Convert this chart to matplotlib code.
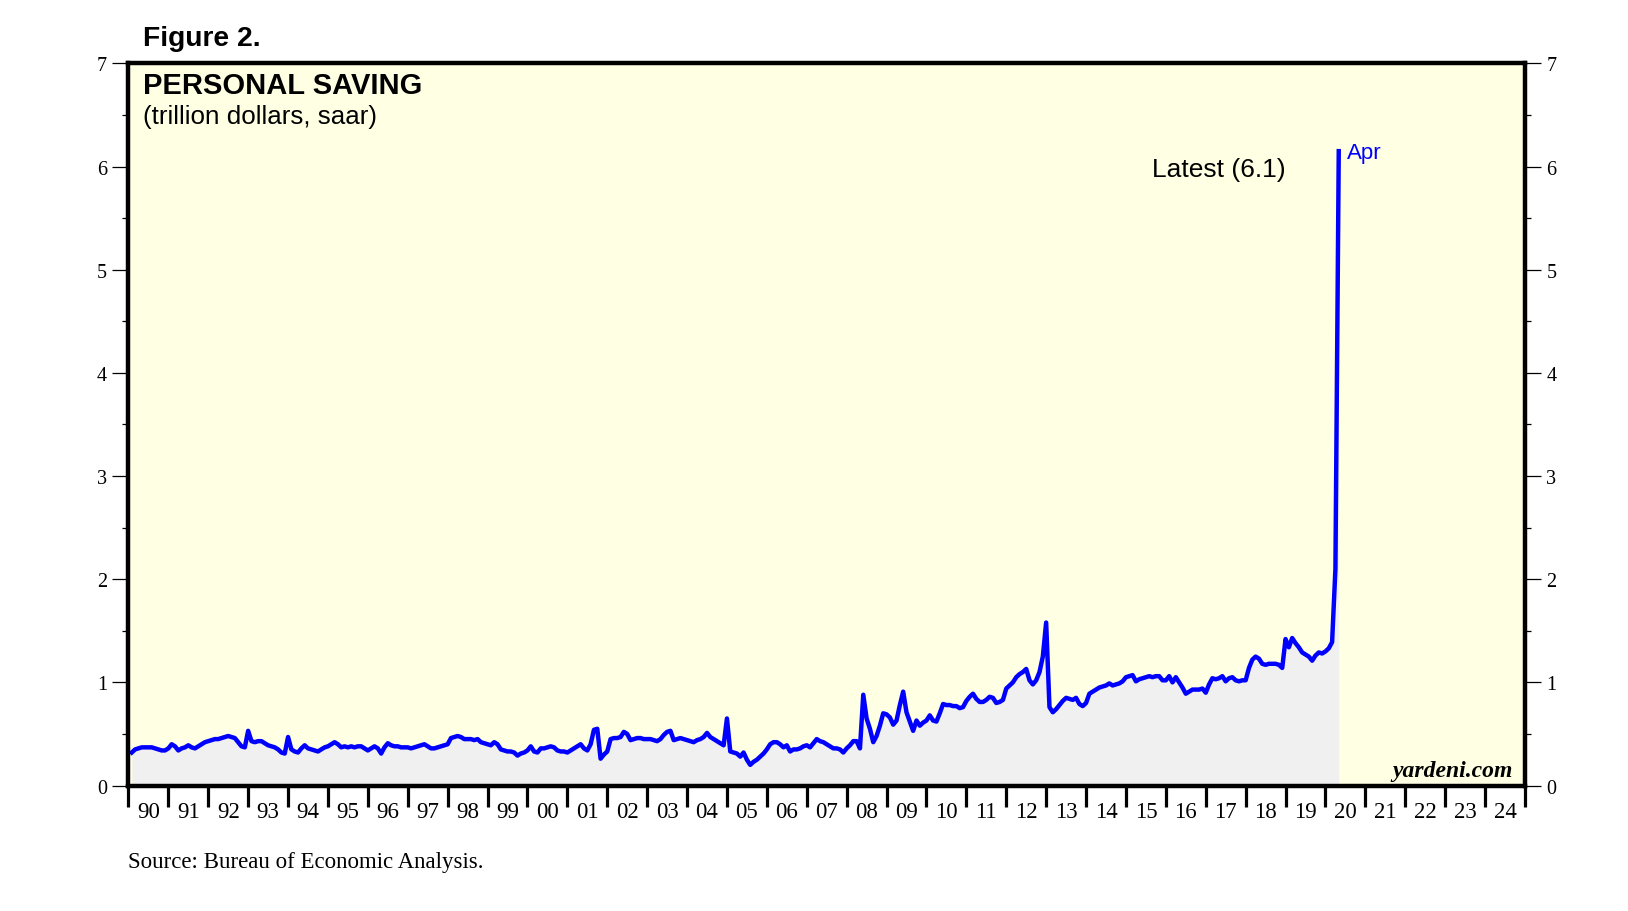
import numpy as np
import matplotlib
matplotlib.use('Agg')
import matplotlib.pyplot as plt
from matplotlib.ticker import FixedLocator, MultipleLocator, NullFormatter

# personal saving, trillion dollars, saar (monthly)
s1990 = [0.32, 0.35, 0.36, 0.37, 0.37, 0.37, 0.37, 0.36, 0.35, 0.34, 0.34, 0.36]
s1991 = [0.40, 0.38, 0.34, 0.36, 0.37, 0.39, 0.37, 0.36, 0.38, 0.40, 0.42, 0.43]
s1992 = [0.44, 0.45, 0.45, 0.46, 0.47, 0.48, 0.47, 0.46, 0.42, 0.38, 0.37, 0.53]
s1993 = [0.43, 0.42, 0.43, 0.43, 0.41, 0.39, 0.38, 0.37, 0.35, 0.32, 0.31, 0.47]
s1994 = [0.35, 0.33, 0.32, 0.36, 0.39, 0.36, 0.35, 0.34, 0.33, 0.35, 0.37, 0.38]
s1995 = [0.40, 0.42, 0.40, 0.37, 0.38, 0.37, 0.38, 0.37, 0.38, 0.38, 0.36, 0.34]
s1996 = [0.36, 0.38, 0.36, 0.31, 0.37, 0.41, 0.39, 0.38, 0.38, 0.37, 0.37, 0.37]
s1997 = [0.36, 0.37, 0.38, 0.39, 0.40, 0.38, 0.36, 0.36, 0.37, 0.38, 0.39, 0.40]
s1998 = [0.46, 0.47, 0.48, 0.47, 0.45, 0.45, 0.45, 0.44, 0.45, 0.42, 0.41, 0.40]
s1999 = [0.39, 0.42, 0.40, 0.35, 0.34, 0.33, 0.33, 0.32, 0.29, 0.31, 0.32, 0.34]
s2000 = [0.38, 0.33, 0.32, 0.36, 0.36, 0.37, 0.38, 0.37, 0.34, 0.33, 0.33, 0.32]
s2001 = [0.34, 0.36, 0.38, 0.40, 0.36, 0.34, 0.40, 0.54, 0.55, 0.26, 0.30, 0.33]
s2002 = [0.45, 0.46, 0.46, 0.47, 0.52, 0.50, 0.44, 0.45, 0.46, 0.46, 0.45, 0.45]
s2003 = [0.45, 0.44, 0.43, 0.45, 0.49, 0.52, 0.53, 0.44, 0.45, 0.46, 0.45, 0.44]
s2004 = [0.43, 0.42, 0.44, 0.45, 0.47, 0.51, 0.47, 0.45, 0.43, 0.41, 0.39, 0.65]
s2005 = [0.33, 0.32, 0.31, 0.28, 0.32, 0.25, 0.20, 0.23, 0.25, 0.28, 0.31, 0.35]
s2006 = [0.40, 0.42, 0.42, 0.40, 0.37, 0.39, 0.33, 0.35, 0.35, 0.36, 0.38, 0.39]
s2007 = [0.37, 0.41, 0.45, 0.43, 0.42, 0.40, 0.38, 0.36, 0.36, 0.35, 0.32, 0.36]
s2008 = [0.39, 0.43, 0.43, 0.36, 0.88, 0.65, 0.55, 0.42, 0.48, 0.58, 0.70, 0.69]
s2009 = [0.66, 0.59, 0.63, 0.78, 0.91, 0.71, 0.62, 0.53, 0.63, 0.58, 0.61, 0.63]
s2010 = [0.68, 0.63, 0.62, 0.70, 0.79, 0.78, 0.78, 0.77, 0.77, 0.75, 0.76, 0.82]
s2011 = [0.86, 0.89, 0.84, 0.81, 0.81, 0.83, 0.86, 0.85, 0.80, 0.81, 0.83, 0.94]
s2012 = [0.97, 1.00, 1.05, 1.08, 1.10, 1.13, 1.02, 0.98, 1.02, 1.10, 1.25, 1.58]
s2013 = [0.76, 0.71, 0.74, 0.78, 0.82, 0.85, 0.84, 0.83, 0.85, 0.79, 0.77, 0.80]
s2014 = [0.89, 0.91, 0.93, 0.95, 0.96, 0.97, 0.99, 0.97, 0.98, 0.99, 1.01, 1.05]
s2015 = [1.06, 1.07, 1.01, 1.03, 1.04, 1.05, 1.06, 1.05, 1.06, 1.06, 1.02, 1.02]
s2016 = [1.06, 1.00, 1.05, 1.00, 0.95, 0.89, 0.91, 0.93, 0.93, 0.93, 0.94, 0.90]
s2017 = [0.98, 1.04, 1.03, 1.04, 1.06, 1.01, 1.04, 1.05, 1.02, 1.01, 1.02, 1.02]
s2018 = [1.14, 1.22, 1.25, 1.23, 1.18, 1.17, 1.18, 1.18, 1.18, 1.17, 1.14, 1.42]
s2019 = [1.34, 1.43, 1.38, 1.34, 1.29, 1.27, 1.25, 1.21, 1.26, 1.29, 1.28, 1.30]
s2020 = [1.33, 1.39, 2.10, 6.15]

year_labels = ['90', '91', '92', '93', '94', '95', '96', '97', '98', '99',
               '00', '01', '02', '03', '04', '05', '06', '07', '08', '09',
               '10', '11', '12', '13', '14', '15', '16', '17', '18', '19',
               '20', '21', '22', '23', '24']

saving = np.array(s1990 + s1991 + s1992 + s1993 + s1994 + s1995 + s1996 + s1997
                  + s1998 + s1999 + s2000 + s2001 + s2002 + s2003 + s2004 + s2005
                  + s2006 + s2007 + s2008 + s2009 + s2010 + s2011 + s2012 + s2013
                  + s2014 + s2015 + s2016 + s2017 + s2018 + s2019 + s2020)
# month-end positions in decimal years
x = 1990 + (np.arange(len(saving)) + 1) / 12.0

sans = 'Liberation Sans'
serif = 'Liberation Serif'

fig = plt.figure(figsize=(16.28, 9.12), dpi=100)
ax = fig.add_axes([0.0789, 0.1376, 0.8578, 0.7917])
ax.set_facecolor('#FFFFE3')

ax.fill_between(x, 0, saving, color='#F0F0F0', lw=0, zorder=1)
ax.plot(x, saving, color='#0000FF', lw=3.2, solid_joinstyle='round', zorder=3)

ax.set_xlim(1990, 2025)
ax.set_ylim(0, 7)

for sp in ax.spines.values():
    sp.set_linewidth(3.2)
    sp.set_color('black')
    sp.set_zorder(5)

# y axis both sides
ax.yaxis.set_major_locator(MultipleLocator(1))
ax.yaxis.set_minor_locator(MultipleLocator(0.5))
ax.tick_params(axis='y', which='major', direction='out', length=11.5, width=0.9,
               left=True, right=True, labelleft=True, labelright=True,
               labelsize=14.5, pad=4)
ax.tick_params(axis='y', which='minor', direction='out', length=4.3, width=0.9,
               left=True, right=True)
for lab in ax.get_yticklabels():
    lab.set_fontfamily(serif)

# x axis: thick year ticks, labels centred between them
ax.xaxis.set_major_locator(FixedLocator(np.arange(1990, 2026)))
ax.xaxis.set_major_formatter(NullFormatter())
ax.xaxis.set_minor_locator(FixedLocator(np.arange(1990, 2025) + 0.5))
ax.set_xticklabels(year_labels, minor=True, fontfamily=serif, fontsize=16.5)
ax.tick_params(axis='x', which='major', direction='out', length=15, width=2.3)
ax.tick_params(axis='x', which='minor', length=0, pad=11.5)

fig.text(0.0878, 0.9496, 'Figure 2.', fontfamily=sans, fontweight='bold', fontsize=20.3,
         va='baseline')
fig.text(0.0878, 0.8969, 'PERSONAL SAVING', fontfamily=sans,
         fontweight='bold', fontsize=21, va='baseline')
fig.text(0.0878, 0.8640, '(trillion dollars, saar)', fontfamily=sans,
         fontsize=18.7, va='baseline')
fig.text(0.7076, 0.8063, 'Latest (6.1)', fontfamily=sans, fontsize=19, va='baseline')
fig.text(0.8272, 0.8257, 'Apr', fontfamily=sans, fontsize=16, color='#0000FF',
         va='baseline')
fig.text(0.9294, 0.148, 'yardeni.com', fontfamily=serif, fontstyle='italic',
         fontweight='bold', fontsize=17, ha='right', va='baseline')
fig.text(0.0789, 0.0478, 'Source: Bureau of Economic Analysis.', fontfamily=serif,
         fontsize=16.5, va='baseline')

fig.savefig('out.png', dpi=100, facecolor='white')
